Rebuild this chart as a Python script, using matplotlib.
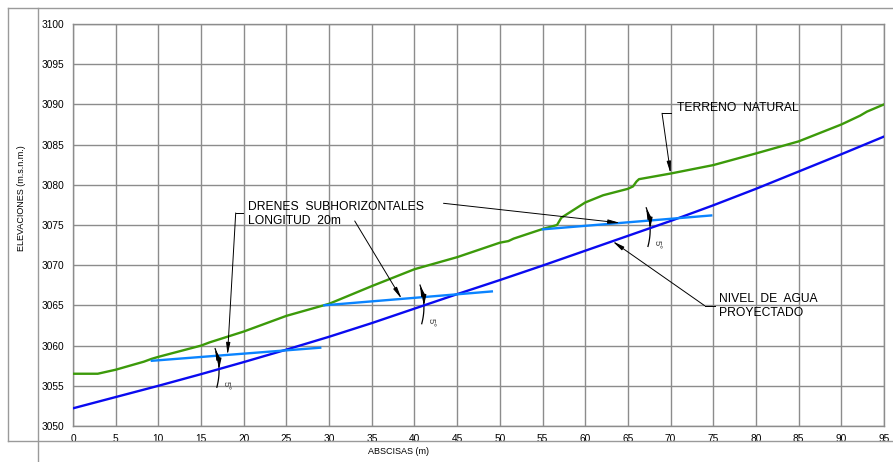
import numpy as np
import matplotlib
matplotlib.use('Agg')
import matplotlib.pyplot as plt
from matplotlib.lines import Line2D

# terreno natural (green)
terreno_x = [0, 2.9, 5, 8.3, 9.2, 10, 15, 16, 20, 25, 30, 35, 40, 45, 50, 51, 51.6,
             55, 56.7, 57.2, 60, 62.1, 65, 65.6, 66.0, 66.3, 70, 75, 80, 85, 90, 92.2, 93, 95]
terreno_y = [3056.5, 3056.5, 3057.0, 3058.0, 3058.35, 3058.6, 3060.0, 3060.4, 3061.75,
             3063.7, 3065.2, 3067.4, 3069.5, 3071.0, 3072.8, 3073.0, 3073.3, 3074.5,
             3075.0, 3075.9, 3077.8, 3078.7, 3079.5, 3079.8, 3080.4, 3080.7, 3081.4,
             3082.45, 3083.9, 3085.4, 3087.5, 3088.6, 3089.1, 3090.0]

# nivel de agua proyectado (blue)
nivel_x = [0, 5, 10, 15, 20, 25, 30, 35, 40, 45, 50, 55, 60, 65, 70, 75, 80, 85, 90, 95]
nivel_y = [3052.2, 3053.6, 3055.0, 3056.45, 3057.95, 3059.5, 3061.1, 3062.8, 3064.6, 3066.4,
           3068.15, 3069.95, 3071.8, 3073.65, 3075.5, 3077.45, 3079.5, 3081.65, 3083.8, 3086.0]

# drenes subhorizontales (start/end)
dren_x = [[9.1, 29.1], [29.3, 49.2], [54.9, 74.9]]
dren_y = [[3058.1, 3059.75], [3065.0, 3066.75], [3074.45, 3076.2]]

# where the 5 deg angle marks sit
ang_x = [16.9, 40.9, 67.4]
ang_label = '5°'

xticks = list(range(0, 100, 5))
yticks = list(range(3050, 3105, 5))

GREEN = '#3c9a0a'
BLUE = '#0a0af0'
LBLUE = '#0a84ff'
GRID = '#8c8c8c'

fig = plt.figure(figsize=(8.93, 4.62), dpi=100)
ax = fig.add_axes([73/893, 1-426/462, (884-73)/893, (426-24)/462])

ax.plot(terreno_x, terreno_y, color=GREEN, lw=1.7, zorder=3)
ax.plot(nivel_x, nivel_y, color=BLUE, lw=1.7, zorder=3)
for dx, dy in zip(dren_x, dren_y):
    ax.plot(dx, dy, color=LBLUE, lw=1.7, zorder=3, solid_capstyle='butt')

ax.set_xlim(0, 95)
ax.set_ylim(3050, 3100)
ax.set_xticks(xticks)
ax.set_yticks(yticks)
ax.grid(True, color=GRID, lw=1.0)
ax.set_axisbelow(True)
ax.tick_params(length=0, labelsize=7.3, pad=6)
for lab in ax.get_xticklabels() + ax.get_yticklabels():
    lab.set_family('Liberation Sans')
for s in ax.spines.values():
    s.set_color(GRID)
    s.set_linewidth(1.0)

tfont = dict(family='Liberation Sans', fontsize=8.7, color='black')
arrow = dict(arrowstyle='-|>,head_length=0.7,head_width=0.12', color='black', lw=0.7,
             shrinkA=0, shrinkB=0)

# TERRENO NATURAL
ax.text(70.7, 3089.6, 'TERRENO  NATURAL', ha='left', va='center', **tfont)
ax.plot([70.0, 69.0], [3088.9, 3088.9], color='black', lw=0.7)
ax.annotate('', xy=(70.0, np.interp(70.0, terreno_x, terreno_y)), xytext=(69.0, 3088.9),
            arrowprops=arrow)

# DRENES SUBHORIZONTALES
ax.text(20.5, 3077.2, 'DRENES  SUBHORIZONTALES', ha='left', va='center', **tfont)
ax.text(20.5, 3075.5, 'LONGITUD  20m', ha='left', va='center', **tfont)
ax.plot([19.95, 19.06], [3076.5, 3076.5], color='black', lw=0.7)
targets = [18.1, 38.5, 64.1]
starts = [(19.06, 3076.5), (33.0, 3075.5), (43.4, 3077.7)]
for tx, st, dx, dy in zip(targets, starts, dren_x, dren_y):
    ty = np.interp(tx, dx, dy)
    ax.annotate('', xy=(tx, ty), xytext=st, arrowprops=arrow)

# NIVEL DE AGUA PROYECTADO
ax.text(75.7, 3065.75, 'NIVEL  DE  AGUA', ha='left', va='center', **tfont)
ax.text(75.7, 3064.0, 'PROYECTADO', ha='left', va='center', **tfont)
ax.plot([75.2, 74.0], [3064.96, 3064.96], color='black', lw=0.7)
ax.annotate('', xy=(63.2, np.interp(63.2, nivel_x, nivel_y)), xytext=(74.0, 3064.96),
            arrowprops=arrow)

# 5 deg marks
small = dict(arrowstyle='-|>,head_length=0.6,head_width=0.12', color='black', lw=0.9,
             shrinkA=0, shrinkB=0)
for xm in ang_x:
    yb = np.interp(xm, nivel_x, nivel_y)
    t = np.linspace(-1, 1, 30)
    yy = yb + 0.2 + t * 2.4
    xx = xm + 0.35 * (1 - t**2) - 0.15 - 0.1 * t
    ax.plot(xx, yy, color='black', lw=0.9)
    ax.annotate('', xy=(xx[-1], yy[-1]), xytext=(xx[-6], yy[-6]), arrowprops=small)
    ax.annotate('', xy=(xm + 0.2, yb), xytext=(xm + 0.22, yb + 1.0), arrowprops=small)
    ax.text(xm + 1.0, yb - 2.0, ang_label, rotation=-90, ha='center', va='center',
            family='Liberation Sans', fontsize=6.8, color='#444444')

# drawing frame
fl = dict(color='#9a9a9a', lw=1.0, transform=fig.transFigure)
fig.add_artist(Line2D([8/893, 1], [1-8/462, 1-8/462], **fl))
fig.add_artist(Line2D([8/893, 8/893], [1-8/462, 1-441/462], **fl))
fig.add_artist(Line2D([8/893, 1], [1-441/462, 1-441/462], **fl))
fig.add_artist(Line2D([38/893, 38/893], [1-8/462, 0], **fl))

fig.text(22/893, 1-198/462, 'ELEVACIONES (m.s.n.m.)', rotation=90, ha='center', va='center',
         family='Liberation Sans', fontsize=6.5)
fig.text(398/893, 1-452/462, 'ABSCISAS (m)', ha='center', va='center',
         family='Liberation Sans', fontsize=6.5)

fig.savefig('out.png', dpi=100)
